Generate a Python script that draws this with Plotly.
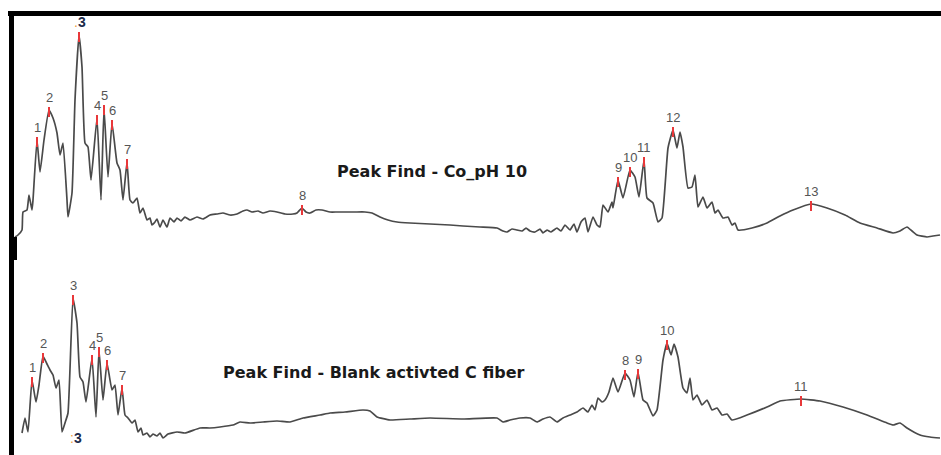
import numpy as np
import plotly.graph_objects as go

# ---------------- data (positions in channel units, intensity in a.u.) -------------
top_x = [15,18,22,23,27,29,32,33,37,40,44,49,53,57,60,63,67,68,72,75,79,82,85,88,91,97,101,104,108,112,
         117,120,123,127,130,133,137,140,143,147,150,152,155,157,160,163,167,170,174,177,181,185,190,197,
         203,210,217,223,230,237,243,247,252,258,263,270,277,285,293,297,302,306,310,316,322,330,337,345,
         355,365,372,380,388,397,410,430,450,463,480,497,503,507,512,517,522,526,530,535,540,543,547,551,
         557,561,565,570,574,577,581,585,588,593,597,600,603,608,612,613,618,623,630,635,639,644,647,653,
         658,662,668,673,677,680,683,688,692,695,698,703,707,712,715,718,723,728,732,735,738,752,767,780,
         793,811,827,845,860,877,893,900,907,912,917,927,933,940]
top_row = [237,235,230,212,210,195,210,200,140,172,140,110,118,133,155,143,200,217,193,100,35,67,143,147,180,118,200,108,177,123,
           163,170,200,162,200,203,198,213,208,220,218,225,222,219,227,220,227,218,222,218,221,217,220,217,
           219,215,214,213,215,214,211,210,212,211,213,211,212,214,214,213,208,212,213,210,210,212,212,212,
           212,212,213,217,220,222,223,224,225,226,227,228,231,232,229,230,231,228,231,232,229,233,230,232,
           228,231,225,230,224,232,222,218,232,217,225,227,205,212,202,208,180,198,170,177,197,160,198,203,
           222,218,148,130,148,132,147,188,187,175,207,197,208,202,213,210,218,217,225,223,230,228,223,216,
           210,204,208,215,223,228,233,231,227,231,235,237,236,235]
top_int = [240 - r for r in top_row]

bot_x = [22,25,28,32,36,39,43,47,50,53,56,59,62,65,68,73,77,80,83,86,92,96,99,103,107,112,115,118,122,125,
         128,132,135,138,141,143,147,150,153,157,160,163,168,177,185,200,210,220,233,240,250,263,277,290,
         303,320,330,345,363,370,377,390,410,430,463,497,503,510,520,530,537,543,550,557,563,570,577,583,
         588,592,595,598,602,605,609,613,618,625,630,634,638,643,647,653,657,663,667,671,674,678,683,687,
         690,693,697,702,707,712,717,722,727,732,747,767,780,801,820,843,867,887,893,900,907,920,930,940]
bot_row = [433,418,432,380,402,385,356,364,370,375,388,380,432,423,413,298,323,377,382,402,358,417,350,400,363,390,385,415,388,415,
           418,423,420,432,428,435,433,437,434,436,433,438,434,432,433,428,428,427,425,422,423,422,421,422,
           418,415,413,412,410,411,417,420,419,418,419,418,422,420,418,418,422,419,417,422,418,415,412,408,
           412,405,410,398,402,400,392,378,392,373,380,397,372,400,403,416,410,360,343,355,344,357,388,393,
           378,400,395,405,400,410,408,415,414,420,415,407,401,399,401,407,415,423,425,423,428,435,437,438]
bot_int = [455 - r for r in bot_row]

top_peaks = [37,49,79,97,104,112,127,302,618,630,644,673,811]
top_labels = ["1","2","3","4","5","6","7","8","9","10","11","12","13"]
bot_peaks = [32,43,73,92,99,107,122,625,638,667,801]
bot_labels = ["1","2","3","4","5","6","7","8","9","10","11"]

titles = ["Peak Find - Co_pH 10", "Peak Find - Blank activted C fiber"]

# ---------------- figure ----------------
W, H = 941, 455
fig = go.Figure()
line = dict(color="#4a4a4a", width=1.7, shape="spline", smoothing=0.4)
fig.add_trace(go.Scatter(x=top_x, y=top_int, mode="lines", line=line, yaxis="y", hoverinfo="skip"))
fig.add_trace(go.Scatter(x=bot_x, y=bot_int, mode="lines", line=line, yaxis="y2", hoverinfo="skip"))

tp_y = np.interp(top_peaks, top_x, top_int)
bp_y = np.interp(bot_peaks, bot_x, bot_int)
mk = dict(symbol="line-ns", size=7, line=dict(color="#e8383a", width=2), color="#e8383a")
fig.add_trace(go.Scatter(x=top_peaks, y=tp_y - 2, mode="markers", marker=mk, yaxis="y", hoverinfo="skip"))
fig.add_trace(go.Scatter(x=bot_peaks, y=bp_y - 2, mode="markers", marker=mk, yaxis="y2", hoverinfo="skip"))

ann = []
lab_font = dict(family="Liberation Sans, Arial", size=13, color="#555555")
for px, py, t in zip(top_peaks, tp_y, top_labels):
    if t == "3":
        ann.append(dict(x=px, y=py, xref="x", yref="y", yanchor="bottom", yshift=3, xshift=1,
                        text='<span style="color:#f0a040">.</span><b>3</b>', showarrow=False,
                        font=dict(family="Liberation Sans, Arial", size=14, color="#1c2b4a")))
    else:
        ann.append(dict(x=px, y=py, xref="x", yref="y", yanchor="bottom", yshift=3,
                        text=t, showarrow=False, font=lab_font))
for px, py, t in zip(bot_peaks, bp_y, bot_labels):
    ann.append(dict(x=px, y=py, xref="x", yref="y2", yanchor="bottom", yshift=3,
                    text=t, showarrow=False, font=lab_font))
# stray bold "3" under the lower trace
ann.append(dict(x=bot_peaks[2] + 3, y=bp_y[2], xref="x", yref="y2", yanchor="middle", yshift=-140,
                text='<span style="color:#f0a040">:</span><b>3</b>', showarrow=False,
                font=dict(family="Liberation Sans, Arial", size=14, color="#1c2b4a")))

title_font = dict(family="DejaVu Sans", size=16, color="#1a1a1a")
ann.append(dict(x=432, y=240 - 171, xref="x", yref="y", text="<b>" + titles[0] + "</b>",
                showarrow=False, font=title_font))
ann.append(dict(x=374, y=455 - 372, xref="x", yref="y2", text="<b>" + titles[1] + "</b>",
                showarrow=False, font=title_font))

shapes = [
    dict(type="line", xref="paper", yref="paper", x0=8 / W, x1=1, y0=1 - 13.5 / H, y1=1 - 13.5 / H,
         line=dict(color="black", width=5)),
    dict(type="line", xref="paper", yref="paper", x0=11.5 / W, x1=11.5 / W, y0=1 - 11 / H, y1=0,
         line=dict(color="black", width=5)),
    dict(type="rect", xref="paper", yref="paper", x0=13 / W, x1=17 / W, y0=1 - 260 / H, y1=1 - 237 / H,
         line=dict(width=0), fillcolor="black"),
]

axis_off = dict(visible=False, showgrid=False, zeroline=False, fixedrange=True)
fig.update_layout(
    width=W, height=H, margin=dict(l=0, r=0, t=0, b=0),
    paper_bgcolor="white", plot_bgcolor="white", showlegend=False,
    xaxis=dict(range=[0, W], domain=[0, 1], **axis_off),
    yaxis=dict(range=[0, 240], domain=[1 - 240 / H, 1], **axis_off),
    yaxis2=dict(range=[0, 205], domain=[0, 205 / H], **axis_off),
    annotations=ann, shapes=shapes,
)
fig.write_html("out.html", config={"displayModeBar": False},
               post_script="document.body.style.margin='0';document.body.style.overflow='hidden';")
